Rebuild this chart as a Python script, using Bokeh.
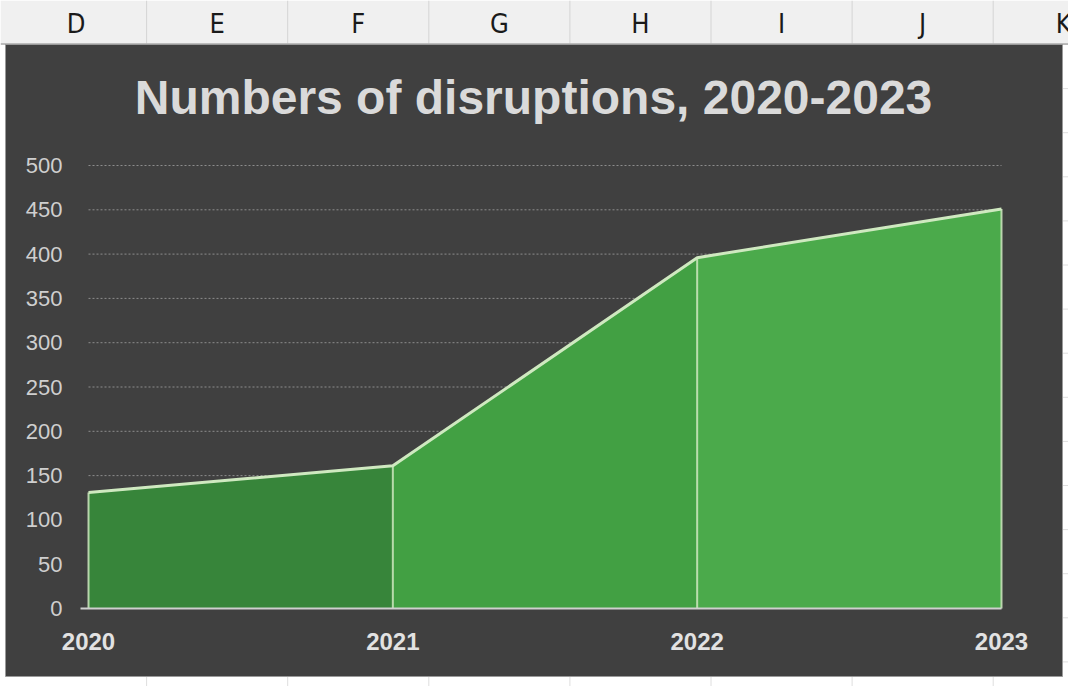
from bokeh.plotting import figure
from bokeh.models import Range1d, FixedTicker, LinearAxis
from bokeh.core.properties import value
from bokeh.embed import file_html
from bokeh.resources import INLINE

# ---- data ----
years = [2020, 2021, 2022, 2023]
disruptions = [131, 161, 396, 451]
y_ticks = [0, 50, 100, 150, 200, 250, 300, 350, 400, 450, 500]
title_text = "Numbers of disruptions, 2020-2023"
sheet_columns = ["D", "E", "F", "G", "H", "I", "J", "K"]

BG = "#404040"
seg_colors = ["#37853a", "#42a043", "#4baa4b"]
outline = "#cfe9c0"

# ---- page geometry (reference pixels) ----
ORIGIN = 0
W, H = 1068, 686
X0_PX, X1_PX = 88, 1001     # pixel of first / last year
Y0_PX, Y500_PX = 608, 165   # pixel of value 0 / 500
kx = (X1_PX - X0_PX) / (years[-1] - years[0])
ky = (Y0_PX - Y500_PX) / 500.0


def X(px):
    return years[0] + (px - X0_PX) / kx


def Y(py):
    return (Y0_PX - py) / ky


p = figure(width=W, height=H,
           x_range=Range1d(X(ORIGIN), X(ORIGIN + W)),
           y_range=Range1d(Y(ORIGIN + H), Y(ORIGIN)),
           output_backend="svg", toolbar_location=None, title=None,
           x_axis_location=None, y_axis_location=None,
           min_border=0, min_border_left=0, min_border_right=0,
           min_border_top=0, min_border_bottom=0)
p.background_fill_color = "white"
p.border_fill_color = "white"
p.outline_line_color = None
p.grid.visible = False

col_w = 141.1
edges = [X(5 + col_w * (k + 1)) for k in range(len(sheet_columns) - 1)]
centers = [X(5 + col_w * (k + 0.5)) for k in range(len(sheet_columns))]

# spreadsheet cell lines outside the chart
rows = [Y(44 + 44.1 * k) for k in range(16)]
p.segment(x0=[X(1062)] * len(rows), y0=rows, x1=[X(ORIGIN + W)] * len(rows), y1=rows,
          line_color="#dedede", line_width=1)
p.segment(x0=edges, y0=[Y(676)] * len(edges), x1=edges, y1=[Y(ORIGIN + H)] * len(edges),
          line_color="#dedede", line_width=1)

# header strip
p.quad(left=[X(ORIGIN)], right=[X(ORIGIN + W)], top=[Y(ORIGIN)], bottom=[Y(43)],
       fill_color="#f0f0f0", line_color=None)
p.segment(x0=edges, y0=[Y(ORIGIN)] * len(edges), x1=edges, y1=[Y(43)] * len(edges),
          line_color="#d4d4d4", line_width=1)
p.segment(x0=[X(ORIGIN)], y0=[Y(43.5)], x1=[X(ORIGIN + W)], y1=[Y(43.5)],
          line_color="#a8a8a8", line_width=1.5)
p.text(x=centers, y=[Y(23)] * len(centers), text=sheet_columns,
       text_font=value("Liberation Sans Narrow, DejaVu Sans Condensed, Liberation Sans"),
       text_font_size="27px", text_color="#1a1a1a",
       text_align="center", text_baseline="alphabetic")

# chart area
p.quad(left=[X(5)], right=[X(1062)], top=[Y(44)], bottom=[Y(676)],
       fill_color=BG, line_color="#9a9a9a", line_width=1)

# grid lines
grid_vals = y_ticks[1:]
p.segment(x0=[years[0]] * len(grid_vals), y0=grid_vals,
          x1=[years[-1]] * len(grid_vals), y1=grid_vals,
          line_color="#8c8c8c", line_width=1, line_dash="2 2")

# area
for i in range(len(years) - 1):
    p.varea(x=years[i:i + 2], y1=[0, 0], y2=disruptions[i:i + 2],
            fill_color=seg_colors[i], fill_alpha=1.0)
p.segment(x0=years, y0=[0] * len(years), x1=years, y1=disruptions,
          line_color=outline, line_width=2, line_alpha=0.85)
p.line(years, disruptions, line_color=outline, line_width=3)

# baseline (horizontal axis line)
p.segment(x0=[X(80)], y0=[0], x1=[years[-1]], y1=[0], line_color="#cfcfcf", line_width=2)

# title
p.text(x=[X(533)], y=[Y(97)], text=[title_text],
       text_font=value("Liberation Sans"), text_font_style="bold",
       text_font_size="48px", text_color="#dadada",
       text_align="center", text_baseline="alphabetic")

# axes at fixed positions inside the frame
yax = LinearAxis(fixed_location=years[0], ticker=FixedTicker(ticks=y_ticks))
yax.axis_line_color = None
yax.major_tick_line_color = None
yax.minor_tick_line_color = None
yax.major_label_standoff = 20
yax.major_label_text_font = "Liberation Sans"
yax.major_label_text_font_size = "22px"
yax.major_label_text_color = "#cfcfcf"
p.add_layout(yax, "left")

xax = LinearAxis(fixed_location=0, ticker=FixedTicker(ticks=years))
xax.axis_line_color = None
xax.major_tick_line_color = None
xax.minor_tick_line_color = None
xax.major_label_standoff = 18
xax.major_label_text_font = "Liberation Sans"
xax.major_label_text_font_style = "bold"
xax.major_label_text_font_size = "24px"
xax.major_label_text_color = "#e2e2e2"
p.add_layout(xax, "below")

open("out.html", "w").write(file_html(p, INLINE))
